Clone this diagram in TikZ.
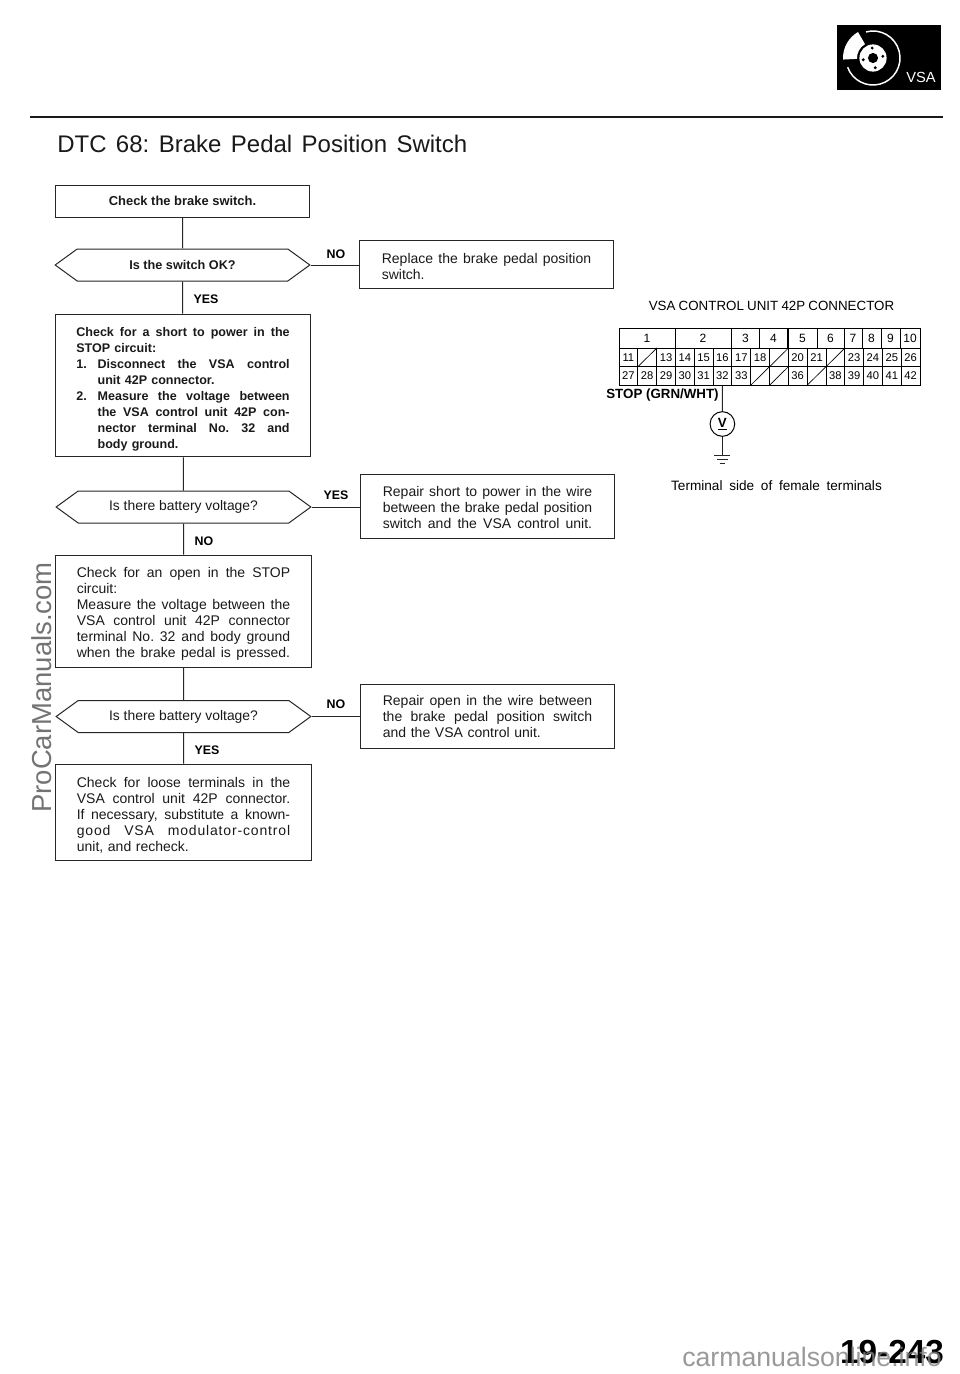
\documentclass[tikz,border=0pt]{standalone}
\usepackage{fontspec}
\setmainfont{Liberation Sans}
\usetikzlibrary{shapes.symbols}
\frenchspacing
\tikzstyle{line} = [draw, line width=0.75pt, black!85]
\tikzstyle{stepbox} = [draw, line width=0.75pt, black!85, text=black!90, inner xsep=15.75pt, inner ysep=0pt, text width=160pt, minimum height=10pt, align=left, font=\fontsize{10.5}{12}\selectfont]
\tikzstyle{replybox} = [stepbox, text width=157pt, inner xsep=16.5pt]
\tikzstyle{question} = [draw, line width=0.75pt, black!85, text=black!90, signal, signal to=east and west, signal pointer angle=72, inner sep=0pt, minimum width=191pt, minimum height=24pt, font=\fontsize{10.4}{12}\selectfont]
\tikzstyle{branch} = [inner sep=0pt, font=\fontsize{9.3}{11}\bfseries\selectfont]
\tikzstyle{pin} = [draw, line width=0.6pt, inner sep=0pt, minimum width=14.1pt, minimum height=13.9pt, font=\fontsize{8.4}{9}\selectfont]
\newcommand{\fl}[2][\hsize]{\makebox[#1][s]{\spaceskip=0pt\xspaceskip=0pt #2}}
\newcommand{\numbered}[2]{\makebox[16pt][l]{#1}\fl[144pt]{#2}}
\begin{document}
\begin{tikzpicture}[x=0.75pt, y=-0.75pt]
  \useasboundingbox (0,0) rectangle (960,1374);

  % header
  \fill[black] (837,25) rectangle (941,90);
  \begin{scope}[shift={(873,58)}, y=0.75pt]
    \draw[white, line width=1.1pt] (105:20.25pt) arc (105:-160:20.25pt);
    \fill[white] (120:22.5pt) arc (120:183:22.5pt) -- (183:12pt) arc (183:120:12pt) -- cycle;
    \fill[white] (0,0) circle (10.2pt);
    \fill[black] (0,0) circle (3.8pt);
    \foreach \a in {95,10,-77,190}
      \fill[black] (\a:7.5pt) circle (1.2pt);
  \end{scope}
  \node (badge) at (921,77) [white, inner sep=0pt, font=\fontsize{11}{12}\selectfont] {VSA};
  \draw[line width=1.9pt, black!90] (30,117) -- (943,117);
  \node (title) at (57,144) [anchor=west, inner sep=0pt, text=black!90, font=\fontsize{18}{22}\selectfont] {\makebox[307.5pt][s]{DTC 68: Brake Pedal Position Switch}};

  % left column
  \node (start) at (182.5,201) [stepbox, minimum width=191pt, minimum height=24pt, text width=, align=center, font=\fontsize{9.7}{12}\bfseries\selectfont] {\raisebox{-0.8pt}{Check the brake switch.}};
  \node (swok) at (182.5,265) [question, font=\fontsize{9.5}{12}\bfseries\selectfont] {\raisebox{-0.8pt}{Is the switch OK?}};
  \node (short) at (183,385.5) [stepbox, minimum height=107pt, font=\fontsize{9.4}{12}\bfseries\selectfont] {%
    \rule{0pt}{11.8pt}\fl{Check for a short to power in the}\\
    STOP circuit:\\
    \numbered{1.}{Disconnect the VSA control}\\
    \hspace*{16pt}unit 42P connector.\\
    \numbered{2.}{Measure the voltage between}\\
    \hspace*{16pt}\fl[144pt]{the VSA control unit 42P con-}\\
    \hspace*{16pt}\fl[144pt]{nector terminal No. 32 and}\\
    \hspace*{16pt}body ground.};
  \node (volt1) at (183.5,507) [question] {\raisebox{-1pt}{Is there battery voltage?}};
  \node (open) at (183.5,611) [stepbox, minimum height=84pt] {%
    \rule{0pt}{11.8pt}\fl{Check for an open in the STOP}\\
    circuit:\\
    \fl{Measure the voltage between the}\\
    \fl{VSA control unit 42P connector}\\
    \fl{terminal No. 32 and body ground}\\
    \fl{when the brake pedal is pressed.}};
  \node (volt2) at (183.5,716.5) [question] {\raisebox{-1pt}{Is there battery voltage?}};
  \node (loose) at (183.5,812) [stepbox, minimum height=72pt] {%
    \rule{0pt}{12.5pt}\fl{Check for loose terminals in the}\\
    \fl{VSA control unit 42P connector.}\\
    \fl{If necessary, substitute a known-}\\
    {\addfontfeature{LetterSpace=6}\fl{good VSA modulator-control}}\\
    unit, and recheck.};

  % right column
  \node (replace) at (486.5,264) [replybox, minimum height=36pt] {%
    \rule{0pt}{11.8pt}\fl{Replace the brake pedal position}\\
    switch.};
  \node (repshort) at (487.5,506) [replybox, minimum height=48pt] {%
    \rule{0pt}{10.3pt}\fl{Repair short to power in the wire}\\
    \fl{between the brake pedal position}\\
    \fl{switch and the VSA control unit.}};
  \node (repopen) at (487.5,716) [replybox, minimum height=48pt] {%
    \rule{0pt}{8.8pt}\fl{Repair open in the wire between}\\
    \fl{the brake pedal position switch}\\
    and the VSA control unit.};

  % connectors
  \draw[line] (start) -- (swok);
  \draw[line] (swok) -- (short);
  \draw[line] (short) -- (volt1);
  \draw[line] (volt1) -- (open);
  \draw[line] (open) -- (volt2);
  \draw[line] (volt2) -- (loose);
  \draw[line] (swok.east) -- (swok.east -| replace.west);
  \draw[line] (volt1.east) -- (volt1.east -| repshort.west);
  \draw[line] (volt2.east) -- (volt2.east -| repopen.west);

  \node (no1) at (336,254) [branch] {NO};
  \node (yes1) at (206,299) [branch] {YES};
  \node (yes2) at (336,495) [branch] {YES};
  \node (no2) at (204,541) [branch] {NO};
  \node (no3) at (336,704) [branch] {NO};
  \node (yes3) at (207,750) [branch] {YES};

  % connector
  \node (conn) at (771.5,306) [inner sep=0pt, font=\fontsize{10}{12}\selectfont] {\makebox[184pt][s]{VSA CONTROL UNIT 42P CONNECTOR}};
  \foreach \t/\x/\w in {1/647/56,2/703/56,3/745.5/28,4/773.5/28,5/802.5/29,6/830.5/27,7/853/18,8/871.5/19,9/890.5/19,10/910/20}
    \node (top\t) at (\x,338) [pin, minimum width=\w*0.75pt, minimum height=15pt, font=\fontsize{9}{10}\selectfont] {\t};
  \foreach \i/\t in {0/11,1/,2/13,3/14,4/15,5/16,6/17,7/18,8/,9/20,10/21,11/,12/23,13/24,14/25,15/26}
    \node (mid\i) at ({628.4+\i*18.81},357.5) [pin] {\t};
  \foreach \i/\t in {0/27,1/28,2/29,3/30,4/31,5/32,6/33,7/,8/,9/36,10/,11/38,12/39,13/40,14/41,15/42}
    \node (low\i) at ({628.4+\i*18.81},376) [pin] {\t};
  \foreach \c in {mid1,mid8,mid11,low7,low8,low10}
    \draw[line width=0.5pt] (\c.south west) -- (\c.north east);
  \node (stop) at (662.5,395) [inner sep=0pt, font=\fontsize{10}{11}\bfseries\selectfont] {STOP (GRN/WHT)};
  \node (meter) at (722.4,424) [draw, circle, line width=0.75pt, inner sep=0pt, minimum size=18.5pt, font=\fontsize{10}{11}\bfseries\selectfont] {\underline{V}};
  \coordinate (gnd) at (722.4,455);
  \draw[line] (low5.south) -- (meter);
  \draw[line] (meter) -- (gnd);
  \draw[line] ([xshift=-6pt]gnd) -- ([xshift=6pt]gnd);
  \draw[line] ([xshift=-4pt,yshift=-3pt]gnd) -- ([xshift=4pt,yshift=-3pt]gnd);
  \draw[line] ([xshift=-2pt,yshift=-6pt]gnd) -- ([xshift=2pt,yshift=-6pt]gnd);
  \node (side) at (776.5,486) [inner sep=0pt, font=\fontsize{10.2}{12}\selectfont] {\makebox[158pt][s]{Terminal side of female terminals}};

  % footer and site marks
  \node (page) at (892,1352) [inner sep=0pt, font=\fontsize{25}{28}\bfseries\selectfont] {19-243};
  \node (site) at (812,1357) [inner sep=0pt, opacity=0.8, text=black!50, font=\fontsize{20}{24}\selectfont] {carmanualsonline.info};
  \node (mark) at (42,687.5) [rotate=90, inner sep=0pt, text=black!55, font=\fontsize{20.6}{24}\selectfont] {ProCarManuals.com};
\end{tikzpicture}
\end{document}
